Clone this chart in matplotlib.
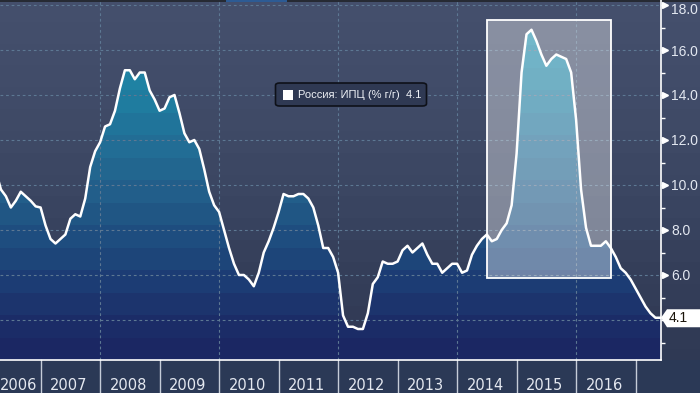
import numpy as np
import matplotlib
matplotlib.use("Agg")
import matplotlib.pyplot as plt
from matplotlib.colors import to_rgb
from matplotlib.patches import Rectangle, FancyBboxPatch, Polygon
import matplotlib.transforms as mtransforms

# ---------------- data ----------------
start_year, start_month = 2006, 3          # first value = March 2006
cpi = [10.6, 9.8, 9.5, 9.0, 9.3, 9.7, 9.5, 9.3, 9.05, 9.0,                  # 2006
       8.2, 7.6, 7.4, 7.6, 7.8, 8.5, 8.7, 8.6, 9.4, 10.8, 11.5, 11.9,        # 2007
       12.6, 12.7, 13.3, 14.3, 15.1, 15.1, 14.7, 15.0, 15.0, 14.2, 13.8, 13.3,  # 2008
       13.4, 13.9, 14.0, 13.2, 12.3, 11.9, 12.0, 11.6, 10.7, 9.7, 9.1, 8.8,  # 2009
       8.0, 7.2, 6.5, 6.0, 6.0, 5.8, 5.5, 6.1, 7.0, 7.5, 8.1, 8.8,           # 2010
       9.6, 9.5, 9.5, 9.6, 9.6, 9.4, 9.0, 8.2, 7.2, 7.2, 6.8, 6.1,           # 2011
       4.2, 3.7, 3.7, 3.6, 3.6, 4.3, 5.6, 5.9, 6.6, 6.5, 6.5, 6.6,           # 2012
       7.1, 7.3, 7.0, 7.2, 7.4, 6.9, 6.5, 6.5, 6.1, 6.3, 6.5, 6.5,           # 2013
       6.1, 6.2, 6.9, 7.3, 7.6, 7.8, 7.5, 7.6, 8.0, 8.3, 9.1, 11.4,          # 2014
       15.0, 16.7, 16.9, 16.4, 15.8, 15.3, 15.6, 15.8, 15.7, 15.6, 15.0, 12.9,  # 2015
       9.8, 8.1, 7.3, 7.3, 7.3, 7.5, 7.2, 6.8, 6.3, 6.1, 5.8, 5.4,           # 2016
       5.0, 4.6, 4.3, 4.1]                                                 # 2017
years = list(range(2006, 2017))
ytick_values = [4, 6, 8, 10, 12, 14, 16, 18]
ytick_labels = ["", "6.0", "8.0", "10.0", "12.0", "14.0", "16.0", "18.0"]
minor_values = [3, 5, 7, 9, 11, 13, 15, 17]
grid_years = [2008, 2010, 2012, 2014, 2016]
box_x = [2014.5, 2016.58]
box_y = [5.85, 17.35]
legend_text = "Россия: ИПЦ (% г/г)  4.1"
last_label = "4.1"

# ---------------- layout ----------------
W, H = 700, 393
fig = plt.figure(figsize=(W / 100, H / 100), dpi=100)

def fx(px):
    return px / W

def fy(py):
    return 1 - py / H

def interp_colors(stops, vals):
    keys = [s[0] for s in stops]
    cols = np.array([to_rgb(s[1]) for s in stops])
    return np.stack([np.interp(vals, keys, cols[:, k]) for k in range(3)], axis=-1)

# background (banded vertical gradient)
bg = fig.add_axes([0, 0, 1, 1], zorder=-10)
bg.set_axis_off()
bg_stops = [(0, "#45506d"), (120, "#404b67"), (200, "#3a4561"), (280, "#343e59"), (393, "#2e3752")]
n_bg = 18
centers = (np.arange(n_bg) + 0.5) * H / n_bg
bg_cols = interp_colors(bg_stops, centers)[:, None, :]
bg.imshow(bg_cols, extent=[0, 1, 1, 0], aspect="auto", interpolation="nearest")
bg.set_xlim(0, 1)
bg.set_ylim(0, 1)
bg.invert_yaxis()
# bottom band
fig.add_artist(Rectangle((0, 0), 1, fy(360), transform=fig.transFigure,
                         facecolor="#2b3956", edgecolor="none", zorder=-5))
# top strip
fig.add_artist(Rectangle((0, fy(2)), 1, 2 / H, transform=fig.transFigure,
                         facecolor="#262a33", edgecolor="none", zorder=-4))
fig.add_artist(Rectangle((fx(226), fy(2)), fx(61), 2 / H, transform=fig.transFigure,
                         facecolor="#2d5b94", edgecolor="none", zorder=-3))

# main axes
ax = fig.add_axes([0, fy(360), fx(661), 360 / H])
ax.patch.set_alpha(0)
x0 = 2007 - 40.6 / 59.5
x1 = 2007 + (661 - 40.6) / 59.5
ylo = 18 - (360 - 5) / 22.5
yhi = 18 + 5 / 22.5
ax.set_xlim(x0, x1)
ax.set_ylim(ylo, yhi)

x = np.array([start_year + (start_month + i) / 12 for i in range(len(cpi))])
y = np.array(cpi)
xf = np.append(x, x1)
yf = np.append(y, y[-1])

# gradient fill under curve
fill_stops = [(2.2, "#1b2561"), (4, "#1c2e69"), (6, "#1d3f76"), (8, "#1f5081"),
              (10, "#23618c"), (12, "#226f97"), (14, "#1f7fa1"), (16, "#1f8aa8"),
              (18.3, "#2a9ab5")]
n_f = 16
fvals = ylo + (np.arange(n_f) + 0.5) * (yhi - ylo) / n_f
fcols = interp_colors(fill_stops, fvals)[:, None, :]
im = ax.imshow(fcols, extent=[x0, x1, ylo, yhi], origin="lower", aspect="auto",
               interpolation="nearest", zorder=2)
poly = ax.fill_between(xf, yf, ylo, facecolor="none", edgecolor="none", zorder=2)
im.set_clip_path(poly.get_paths()[0], transform=ax.transData)
ax.set_xlim(x0, x1)
ax.set_ylim(ylo, yhi)

# grid
for v in ytick_values:
    ax.axhline(v, color="#5d7893", lw=0.8, ls=(0, (2.5, 2.5)), zorder=3)
for gy in grid_years:
    ax.axvline(gy, color="#5d7893", lw=0.8, ls=(0, (2.5, 2.5)), zorder=3)

# highlight box
ax.add_patch(Rectangle((box_x[0], box_y[0]), box_x[1] - box_x[0], box_y[1] - box_y[0],
                       facecolor=(1, 1, 1, 0.37), edgecolor="white", lw=1.3, zorder=4))

# line
ax.plot(xf, yf, color="white", lw=1.8, zorder=5, solid_joinstyle="round")

# spines
for s in ["left", "top"]:
    ax.spines[s].set_visible(False)
for s in ["right", "bottom"]:
    ax.spines[s].set_color("white")
    ax.spines[s].set_linewidth(1.2)
    ax.spines[s].set_zorder(6)

# y ticks
ax.yaxis.tick_right()
ax.set_yticks(ytick_values)
ax.set_yticklabels(ytick_labels)
ax.set_yticks(minor_values, minor=True)
ax.tick_params(axis="y", which="major", length=4, width=1, color="white", pad=3.5,
               labelsize=10, labelcolor="#e3e8f1")
ax.tick_params(axis="y", which="minor", length=3, width=1, color="white")
for lab in ax.get_yticklabels():
    lab.set_family(["Liberation Sans", "DejaVu Sans"])
# keep the top label inside the figure
top_lab = ax.get_yticklabels()[-1]
top_lab.set_transform(top_lab.get_transform() +
                      mtransforms.ScaledTranslation(0, -4 / 100, fig.dpi_scale_trans))
ytrans = mtransforms.offset_copy(ax.get_yaxis_transform(), fig=fig, x=4, y=0, units="dots")
ax.plot([1] * (len(ytick_values) - 1), ytick_values[1:], ls="none", marker=">",
        ms=5, mfc="white", mec="white", transform=ytrans, clip_on=False, zorder=7)

# x axis: year labels and separators
ax.set_xticks([])
xt = ax.get_xaxis_transform()
for yr in years:
    ax.plot([yr + 1, yr + 1], [0, -33 / 360], color="#c5ccd8", lw=1, transform=xt,
            clip_on=False, zorder=6)
    left = max(yr, x0)
    right = min(yr + 1, x1)
    ax.text((left + right) / 2 - 0.025, -25 / 360, str(yr), transform=xt, ha="center",
            va="center", fontsize=10.5, color="#e4e8f0",
            family=["Liberation Sans Narrow", "DejaVu Sans"])

# last value label (arrow box)
fig.canvas.draw()
axp, ayp = ax.transData.transform((x1, y[-1]))
verts = [(axp, ayp), (axp + 6, ayp + 8.5), (W, ayp + 8.5), (W, ayp - 9.5), (axp + 6, ayp - 9.5)]
fig.add_artist(Polygon(verts, closed=True, facecolor="white", edgecolor="none",
                       transform=mtransforms.IdentityTransform(), zorder=8))
fig.text((axp + 8) / W, (ayp - 0.5) / H, last_label, ha="left", va="center", fontsize=10,
         color="#1a140a", family=["Liberation Sans", "DejaVu Sans"], zorder=9)

# legend box
fig.add_artist(FancyBboxPatch((fx(275.5), fy(106)), fx(151), 23 / H,
                              boxstyle="round,pad=0,rounding_size=0.006",
                              transform=fig.transFigure, facecolor="#2f3953",
                              edgecolor="#0e1119", lw=1.2, zorder=8))
fig.add_artist(Rectangle((fx(283), fy(100)), fx(10), 10 / H, transform=fig.transFigure,
                         facecolor="white", edgecolor="none", zorder=9))
fig.text(fx(298), fy(95), legend_text, ha="left", va="center", fontsize=8,
         color="#eef1f6", family=["Liberation Sans", "DejaVu Sans"], zorder=9)

fig.savefig("out.png", dpi=100)
